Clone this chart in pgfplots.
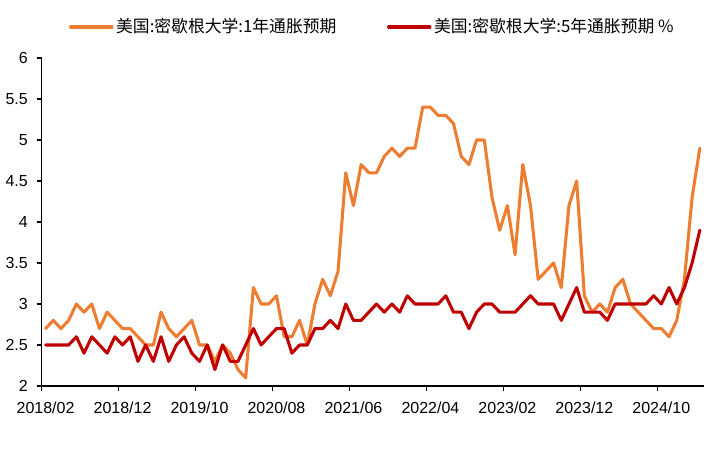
\documentclass[12pt,border=0pt]{standalone}
\usepackage{fontspec}
\setmainfont{Liberation Sans}
\newfontfamily\cjk{Noto Sans CJK SC}
\usepackage{pgfplots}
\usepackage{pgfplotstable}
\pgfplotsset{compat=1.18}

\definecolor{oneyr}{HTML}{ED7D31}
\definecolor{fiveyr}{HTML}{C00000}

% i = month index from 2018/02; y1 = 1-year, y5 = 5-year expectations
\pgfplotstableread{
i y1 y5
0 2.7 2.5
1 2.8 2.5
2 2.7 2.5
3 2.8 2.5
4 3.0 2.6
5 2.9 2.4
6 3.0 2.6
7 2.7 2.5
8 2.9 2.4
9 2.8 2.6
10 2.7 2.5
11 2.7 2.6
12 2.6 2.3
13 2.5 2.5
14 2.5 2.3
15 2.9 2.6
16 2.7 2.3
17 2.6 2.5
18 2.7 2.6
19 2.8 2.4
20 2.5 2.3
21 2.5 2.5
22 2.3 2.2
23 2.5 2.5
24 2.4 2.3
25 2.2 2.3
26 2.1 2.5
27 3.2 2.7
28 3.0 2.5
29 3.0 2.6
30 3.1 2.7
31 2.6 2.7
32 2.6 2.4
33 2.8 2.5
34 2.5 2.5
35 3.0 2.7
36 3.3 2.7
37 3.1 2.8
38 3.4 2.7
39 4.6 3.0
40 4.2 2.8
41 4.7 2.8
42 4.6 2.9
43 4.6 3.0
44 4.8 2.9
45 4.9 3.0
46 4.8 2.9
47 4.9 3.1
48 4.9 3.0
49 5.4 3.0
50 5.4 3.0
51 5.3 3.0
52 5.3 3.1
53 5.2 2.9
54 4.8 2.9
55 4.7 2.7
56 5.0 2.9
57 5.0 3.0
58 4.3 3.0
59 3.9 2.9
60 4.2 2.9
61 3.6 2.9
62 4.7 3.0
63 4.2 3.1
64 3.3 3.0
65 3.4 3.0
66 3.5 3.0
67 3.2 2.8
68 4.2 3.0
69 4.5 3.2
70 3.1 2.9
71 2.9 2.9
72 3.0 2.9
73 2.9 2.8
74 3.2 3.0
75 3.3 3.0
76 3.0 3.0
77 2.9 3.0
78 2.8 3.0
79 2.7 3.1
80 2.7 3.0
81 2.6 3.2
82 2.8 3.0
83 3.3 3.2
84 4.3 3.5
85 4.9 3.9
}\expdata

\begin{document}
\begin{tikzpicture}
\useasboundingbox (-31.3pt,-48pt) rectangle (509.5pt,289.5pt);
\begin{axis}[
  at={(0,0)}, anchor=south west,
  scale only axis,
  width=496.5pt, height=246pt,
  xmin=-0.5, xmax=85.5,
  ymin=2, ymax=6,
  axis x line=bottom, axis y line=left,
  axis line style={-, line width=1.1pt, black},
  tick align=outside,
  major tick length=3.75pt,
  tick style={black, line width=1.1pt},
  xtick={-0.5,9.5,...,79.5},
  xticklabels={},
  extra x ticks={0,10,...,80},
  extra x tick labels={2018/02,2018/12,2019/10,2020/08,2021/06,2022/04,2023/02,2023/12,2024/10},
  extra x tick style={major tick length=0pt, xticklabel style={yshift=-7.5pt}},
  ytick={2,2.5,...,6},
  yticklabel style={xshift=-2.5pt},
  /pgf/number format/assume math mode=true,
  tick label style={font=\fontsize{12}{14}\selectfont},
  legend columns=2,
  legend style={
    at={(0.5,1.0945)}, anchor=center,
    draw=none, fill=none,
    font=\cjk\fontsize{12.6}{14}\selectfont,
    /tikz/every even column/.append style={column sep=36pt},
  },
  legend image code/.code={\draw[#1] (0pt,0pt) -- (31pt,0pt);},
  legend cell align=left,
]
\addplot[color=oneyr, line width=2.3pt, line join=round, line cap=round] table[x=i, y=y1] {\expdata};
\addlegendentry{美国:密歇根大学:1年通胀预期}
\addplot[color=fiveyr, line width=2.3pt, line join=round, line cap=round] table[x=i, y=y5] {\expdata};
\addlegendentry{美国:密歇根大学:5年通胀预期 \%}
\end{axis}
\end{tikzpicture}
\end{document}
